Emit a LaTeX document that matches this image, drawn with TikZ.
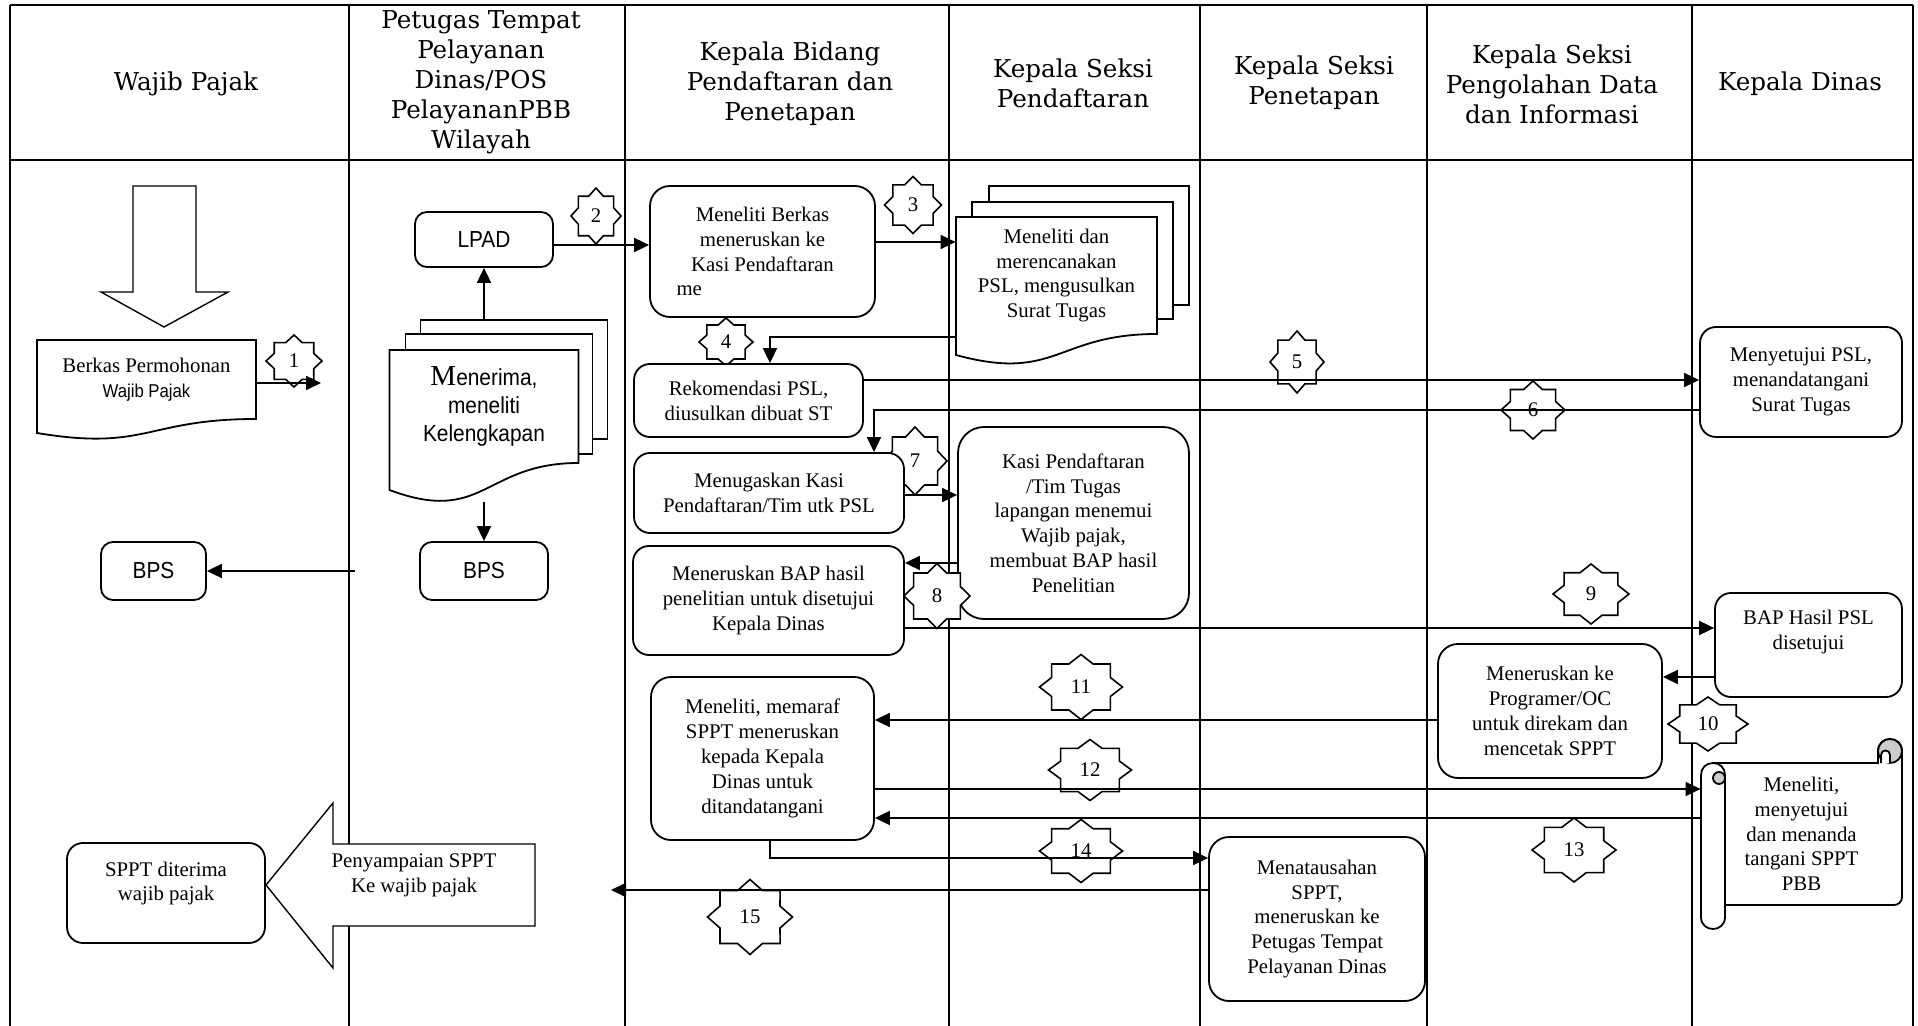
\documentclass[tikz,border=0pt]{standalone}
\usepackage{fontspec}
\setmainfont{Liberation Serif}
\newfontfamily\headfont{DejaVu Serif}
\newfontfamily\arialn[FakeStretch=0.9]{Liberation Sans}
\usetikzlibrary{arrows.meta,calc}

\def\boxfont{\fontsize{10.4}{12.4}\selectfont}
\def\sansfont{\arialn\fontsize{11.6}{14}\selectfont}
\def\wpfont{\arialn\fontsize{9.3}{12}\selectfont}

\tikzset{
  lane/.style={line width=0.6pt},
  frame/.style={line width=1.1pt},
  box/.style={draw, line width=0.9pt, rounded corners=8pt, fill=white, align=center, font=\boxfont, inner sep=0pt},
  smallbox/.style={box, rounded corners=6pt, font=\sansfont},
  doc/.style={inner sep=0pt, align=center, font=\boxfont},
  txt/.style={inner sep=0pt, align=center, font=\boxfont},
  docline/.style={draw, line width=0.9pt, fill=white},
  blockarrow/.style={draw, line width=0.7pt, fill=white},
  conn/.style={line width=0.9pt, -{Triangle[length=7.5pt,width=7pt]}},
  starline/.style={draw, line width=0.8pt, fill=white},
  numtxt/.style={font=\boxfont, inner sep=0pt},
  headtxt/.style={font=\headfont\fontsize{12.3}{15}\selectfont, align=center},
}

% 8-point star: name, x, y, width, height, label
\newcommand{\numstar}[6]{%
  \path[starline] ({#2+#4/2},#3) \foreach \k in {1,...,15}{%
    -- ({#2+cos(\k*22.5)*#4/2*(1-0.235*mod(\k,2))},{#3-sin(\k*22.5)*#5/2*(1-0.235*mod(\k,2))})} -- cycle;
  \node[numtxt] (#1) at (#2,#3) {#6};}

% document with wavy bottom: x, y, width, height, drop
\newcommand{\docshape}[5]{%
  \path[docline] ({#1-#3/2},{#2-#4/2}) -- ({#1+#3/2},{#2-#4/2}) -- ({#1+#3/2},{#2+#4/2})
    .. controls (#1,{#2+#4/2}) and (#1,{#2+#4/2+2.31*#5}) .. ({#1-#3/2},{#2+#4/2+#5}) -- cycle;}

\begin{document}
\begin{tikzpicture}[x=0.5pt, y=-0.5pt]
\useasboundingbox (0,0) rectangle (1918,1026);

% lanes
\draw[frame] (10,5) -- (1913,5) (10,160) -- (1913,160);
\foreach \x in {10,349,625,949,1200,1427,1692,1913}
  \draw[lane] (\x,5) -- (\x,1026);

\node[headtxt] (h0) at (186,84) {Wajib Pajak};
\node[headtxt] (h1) at (481,82) {Petugas Tempat\\Pelayanan\\Dinas/POS\\PelayananPBB\\Wilayah};
\node[headtxt] (h2) at (790,84) {Kepala Bidang\\Pendaftaran dan\\Penetapan};
\node[headtxt] (h3) at (1073,83) {Kepala Seksi\\Pendaftaran};
\node[headtxt] (h4) at (1314,83) {Kepala Seksi\\Penetapan};
\node[headtxt] (h5) at (1552,84) {Kepala Seksi\\Pengolahan Data\\dan Informasi};
\node[headtxt] (h6) at (1800,84) {Kepala Dinas};

% numbered steps
\numstar{s1}{294}{361}{56}{52}{1}
\numstar{s2}{596}{216}{50}{56}{2}
\numstar{s3}{913}{205}{57}{57}{3}
\numstar{s4}{726}{342}{54}{48}{4}
\numstar{s5}{1297}{362}{54}{62}{5}
\numstar{s6}{1533}{410}{64}{58}{6}
\numstar{s7}{915}{461}{64}{68}{7}
\numstar{s9}{1591}{594}{76}{60}{9}
\numstar{s10}{1708}{724}{80}{54}{10}
\numstar{s11}{1081}{687}{83}{65}{11}
\numstar{s12}{1090}{770}{83}{61}{12}
\numstar{s13}{1574}{850}{84}{64}{13}
\numstar{s14}{1081}{851}{83}{63}{14}
\numstar{s15}{750}{917}{85}{75}{15}

% Wajib Pajak
\path[blockarrow] (133,186) -- (196,186) -- (196,292) -- (228,292) -- (164,327) -- (101,292) -- (133,292) -- cycle;
\docshape{146.5}{379.5}{219}{79}{14}
\node[doc, minimum width=109.5pt, minimum height=39.5pt] (berkas) at (146.5,379.5) {Berkas Permohonan\\{\wpfont Wajib Pajak}};
\node[smallbox, minimum width=52.5pt, minimum height=29pt] (bps0) at (153.5,571) {BPS};
\node[box, minimum width=99pt, minimum height=50pt] (sppt) at (166,893) {};
\node[txt] (sppttxt) at (166,883.5) {SPPT diterima\\wajib pajak};
\path[blockarrow] (266,885) -- (333,803) -- (333,844) -- (535,844) -- (535,926) -- (333,926) -- (333,968) -- cycle;
\node[txt] (penyampaian) at (414,875.5) {Penyampaian SPPT\\Ke wajib pajak};

% Petugas
\node[smallbox, minimum width=69pt, minimum height=27.5pt] (lpad) at (484,239.5) {LPAD};
\path[docline] (420.5,320) rectangle (607.5,439);
\path[docline] (405.5,334) rectangle (592.5,454);
\docshape{484}{406.5}{189}{113}{27}
\node[doc, font=\sansfont, minimum width=94.5pt, minimum height=56.5pt] (menerima) at (484,406.5) {{\rmfamily\fontsize{14.5}{14}\selectfont M}enerima,\\meneliti\\Kelengkapan};
\node[smallbox, minimum width=64pt, minimum height=29pt] (bps1) at (484,571) {BPS};

% Kepala Bidang
\node[box, rounded corners=10pt, minimum width=112.5pt, minimum height=65.5pt] (mb) at (762.5,251.5) {Meneliti Berkas\\meneruskan ke\\Kasi Pendaftaran\\\makebox[86pt][l]{me}};
\node[box, minimum width=114.5pt, minimum height=36.5pt] (rek) at (748.5,400.5) {Rekomendasi PSL,\\diusulkan dibuat ST};
\node[box, minimum width=135pt, minimum height=40pt] (mgs) at (769,493) {Menugaskan Kasi\\Pendaftaran/Tim utk PSL};
\node[box, minimum width=135.5pt, minimum height=54.5pt] (mbap) at (768.5,600.5) {Meneruskan BAP hasil\\penelitian untuk disetujui\\Kepala Dinas};
\node[box, rounded corners=10pt, minimum width=111.5pt, minimum height=81.5pt] (mm) at (762.5,758.5) {Meneliti, memaraf\\SPPT meneruskan\\kepada Kepala\\Dinas untuk\\ditandatangani};

% Kasi Pendaftaran
\path[docline] (989,186) rectangle (1189,305);
\path[docline] (972,202) rectangle (1173,319);
\docshape{1056.5}{275.5}{201}{117}{21}
\node[doc, minimum width=100.5pt, minimum height=58.5pt] (mdp) at (1056.5,275.5) {Meneliti dan\\merencanakan\\PSL, mengusulkan\\Surat Tugas};
\node[box, rounded corners=13pt, minimum width=115.5pt, minimum height=96pt] (kasi) at (1073.5,523) {Kasi Pendaftaran\\/Tim Tugas\\lapangan menemui\\Wajib pajak,\\membuat BAP hasil\\Penelitian};

% Kasi Penetapan
\node[box, rounded corners=10pt, minimum width=108pt, minimum height=82pt] (mts) at (1317,919) {Menatausahan\\SPPT,\\meneruskan ke\\Petugas Tempat\\Pelayanan Dinas};

% Kasi PDI
\node[box, rounded corners=10pt, minimum width=112pt, minimum height=67pt] (prog) at (1550,711) {Meneruskan ke\\Programer/OC\\untuk direkam dan\\mencetak SPPT};

% Kepala Dinas
\node[box, minimum width=101pt, minimum height=55pt] (meny) at (1801,382) {Menyetujui PSL,\\menandatangani\\Surat Tugas};
\node[box, minimum width=93.5pt, minimum height=52pt] (bap) at (1808.5,645) {};
\node[txt] (baptxt) at (1808.5,632) {BAP Hasil PSL\\disetujui};
\path[docline] (1713,763) -- (1878,763) -- (1878,751) .. controls (1878,735) and (1902,735) .. (1902,751)
  -- (1902,897) .. controls (1902,902) and (1898,905) .. (1894,905) -- (1725,905) -- (1725,917)
  .. controls (1725,933) and (1701,933) .. (1701,917) -- (1701,775) .. controls (1701,768) and (1706,763) .. (1713,763) -- cycle;
\draw[line width=0.9pt, fill=gray!40] (1890,751) circle[radius=12];
\draw[line width=0.9pt, fill=white] (1881,763) -- (1881,755) .. controls (1881,749) and (1890,749) .. (1890,755) -- (1890,763);
\draw[line width=0.9pt] (1713,763) .. controls (1720,763) and (1725,768) .. (1725,775) -- (1725,905);
\draw[line width=0.9pt, fill=gray!40] (1719,778) circle[radius=6];
\node[doc, minimum width=100.5pt, minimum height=71pt] (scr) at (1801.5,834) {Meneliti,\\menyetujui\\dan menanda\\tangani SPPT\\PBB};

% flow
\coordinate (a1) at (321,383);
\coordinate (bpsfrom) at (355,571);
\coordinate (a15) at (611,890);
\draw[conn] (berkas.east |- a1) -- (a1);
\draw[conn] ($(lpad.east)+(0,5.5)$) coordinate (a2) -- (a2 -| mb.west);
\draw[conn] ($(menerima.north)+(0,-30)$) -- (lpad.south);
\draw[conn] ($(menerima.south)+(0,39)$) -- (bps1.north);
\draw[conn] (bpsfrom) -- (bps0.east);
\draw[conn] ($(mb.east)+(0,-9.5)$) coordinate (a3) -- (a3 -| mdp.west);
\draw[conn] ($(mdp.west)+(0,61.5)$) -| ($(rek.north)+(21.5,0)$);
\draw[conn] ($(rek.east)+(0,-20.5)$) coordinate (a5) -- (a5 -| meny.west);
\draw[conn] ($(meny.west)+(0,28)$) -| ($(mgs.north)+(105,0)$);
\draw[conn] ($(mgs.east)+(0,2)$) coordinate (a7) -- (a7 -| kasi.west);
\draw[conn] ($(kasi.west)+(0,40)$) coordinate (a8) -- (a8 -| mbap.east);
\draw[conn] ($(mbap.east)+(0,27.5)$) coordinate (a9) -- (a9 -| bap.west);
\draw[conn] ($(bap.west)+(0,32)$) coordinate (a10) -- (a10 -| prog.east);
\draw[conn] ($(prog.west)+(0,9)$) coordinate (a11) -- (a11 -| mm.east);
\draw[conn] ($(mm.east)+(0,30.5)$) coordinate (a12) -- (a12 -| scr.west);
\draw[conn] ($(scr.west)+(0,-16)$) coordinate (a13) -- (a13 -| mm.east);
\draw[conn] ($(mm.south)+(7.5,0)$) |- ($(mts.west)+(0,-61)$);
\draw[conn] ($(mts.west)+(0,-29)$) -- (a15);

\numstar{s8}{937}{596}{66}{65}{8}
\end{tikzpicture}
\end{document}
